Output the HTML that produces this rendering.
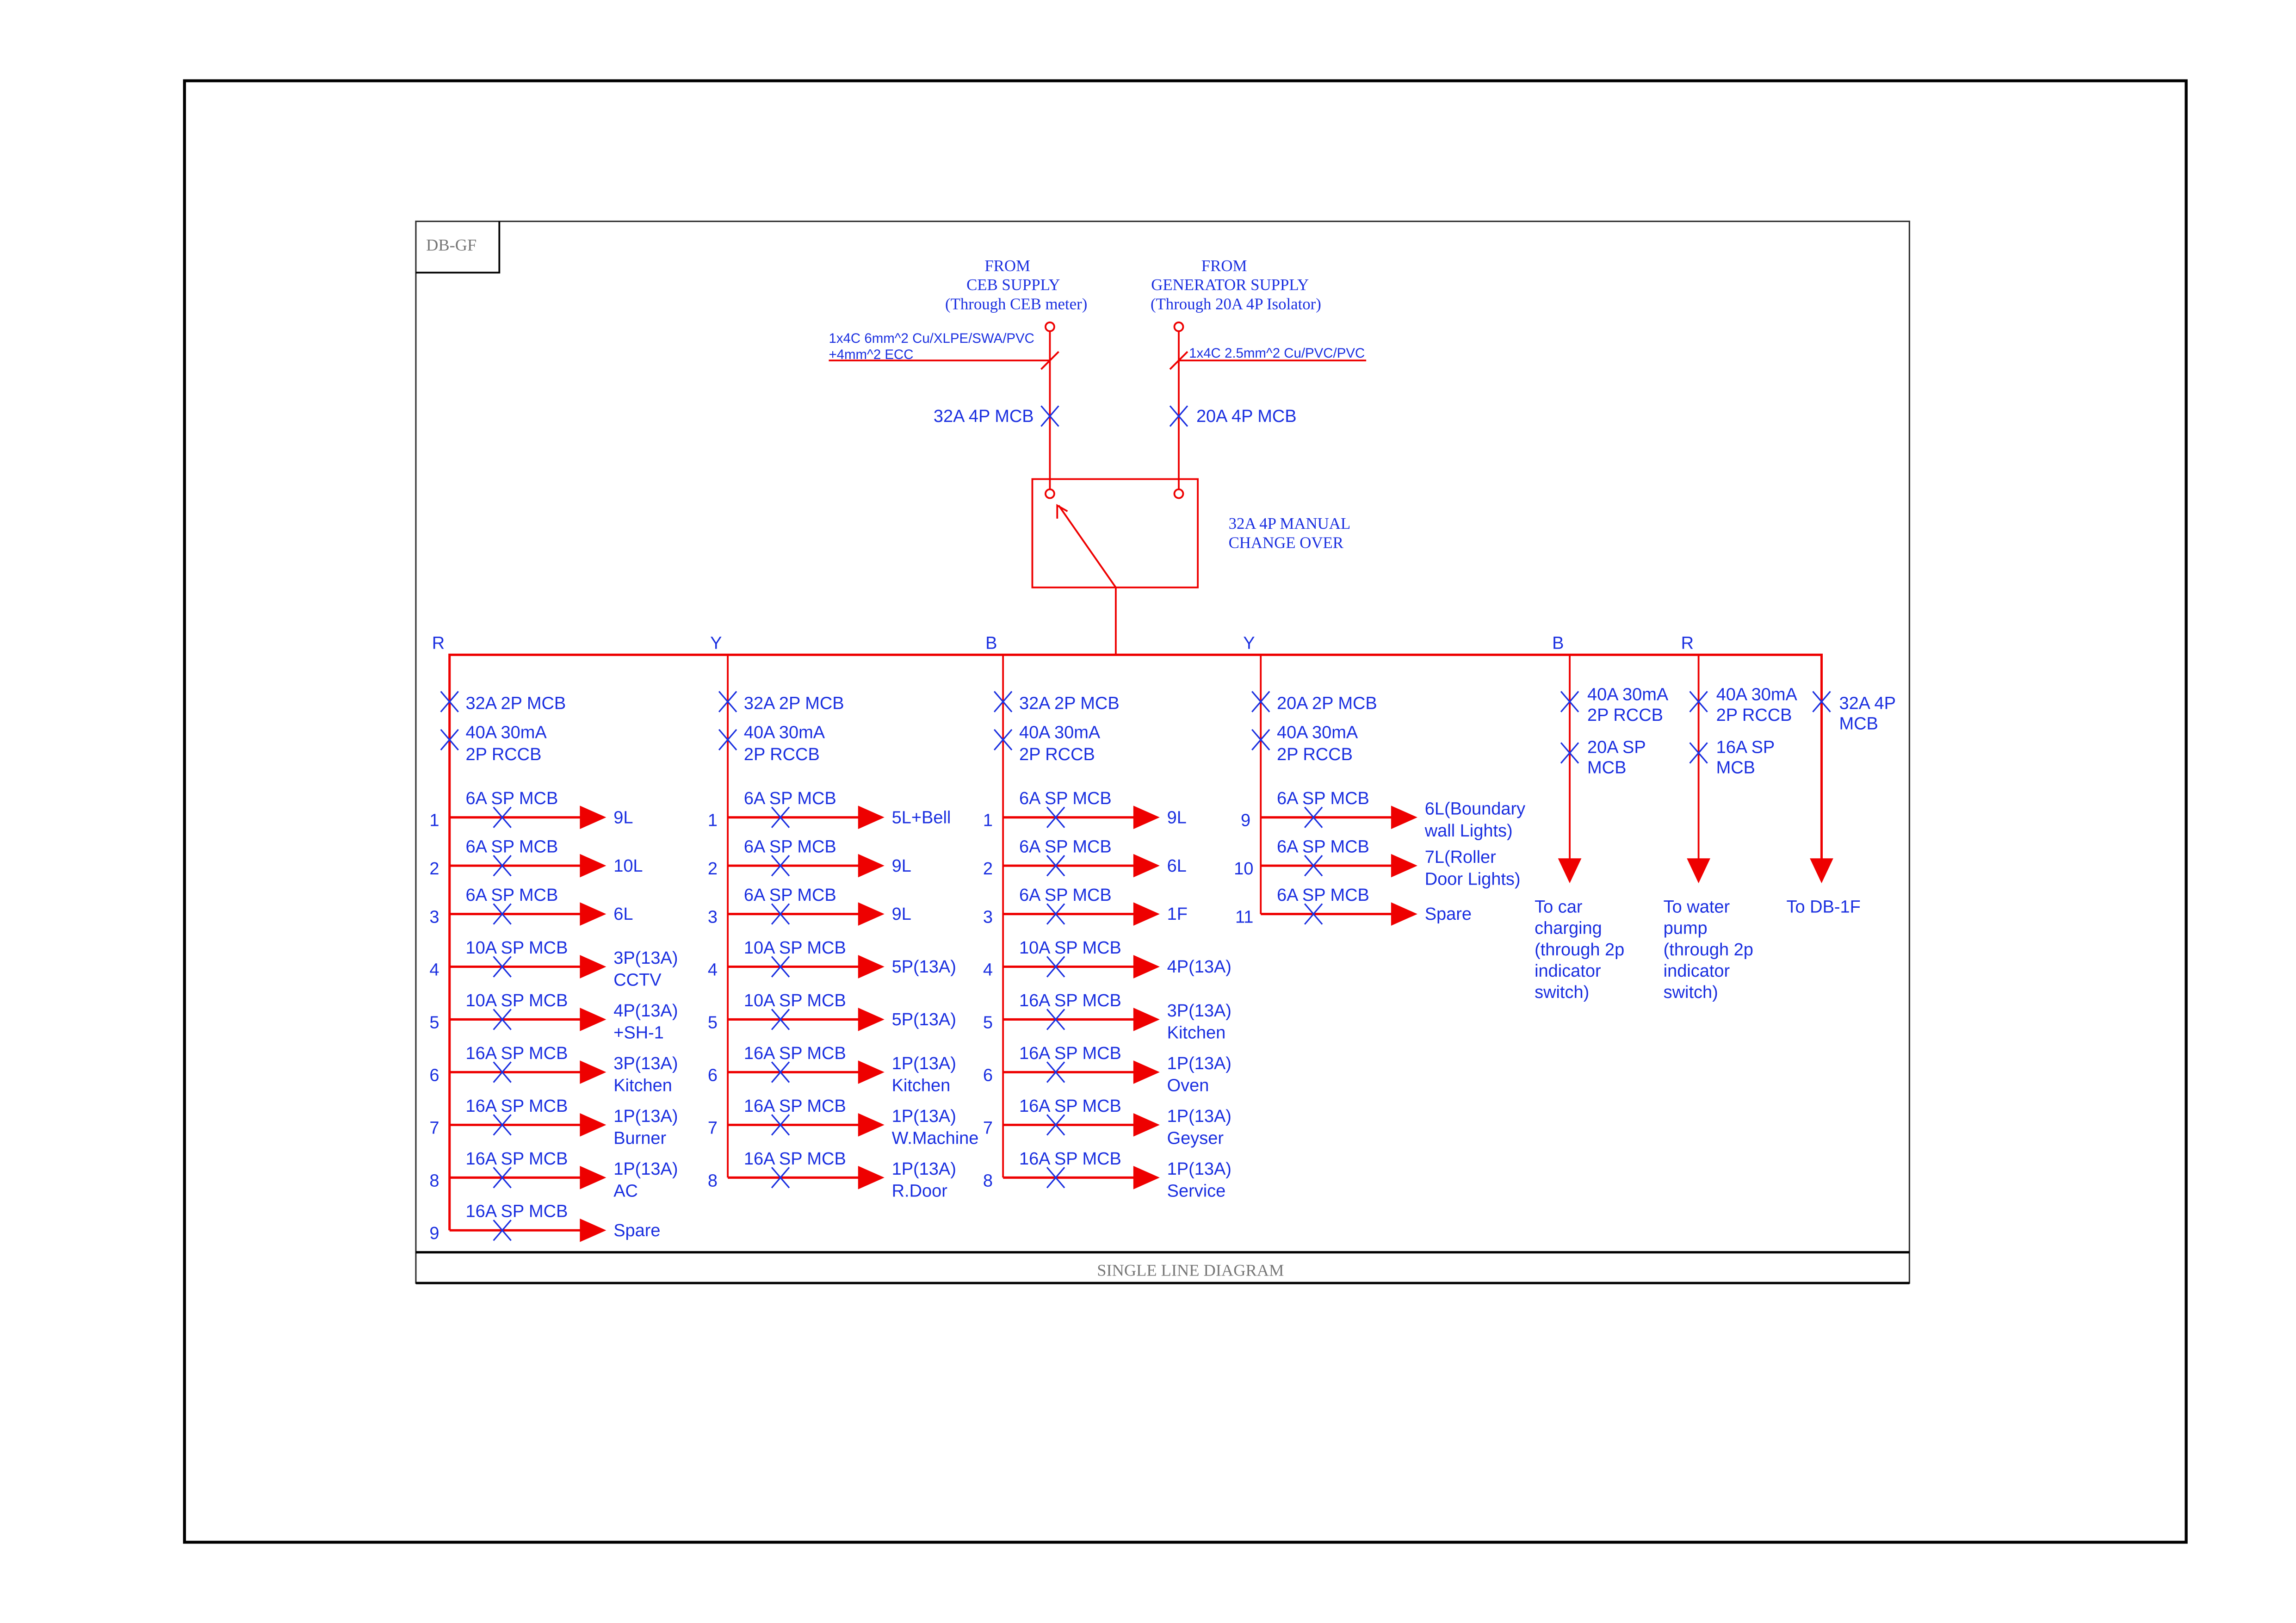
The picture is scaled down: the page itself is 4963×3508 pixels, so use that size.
<!DOCTYPE html>
<html><head><meta charset="utf-8"><style>html,body{margin:0;padding:0;background:#fff}svg{display:block}</style></head>
<body>
<svg width="4963" height="3508" viewBox="0 0 1568 1108" xmlns="http://www.w3.org/2000/svg">
<defs>
<g id="x"><line x1="-6" y1="-7" x2="6" y2="7" stroke="#1a2fe0" stroke-width="1"/><line x1="6" y1="-7" x2="-6" y2="7" stroke="#1a2fe0" stroke-width="1"/></g>
</defs>
<rect width="1568" height="1108" fill="#fff"/>
<rect x="126" y="55" width="1367" height="998" fill="none" stroke="#000" stroke-width="2"/>
<rect x="284" y="151" width="1020" height="725" fill="none" stroke="#333" stroke-width="1"/>
<line x1="284" y1="855" x2="1304" y2="855" stroke="#000" stroke-width="1.6"/>
<line x1="284" y1="876" x2="1304" y2="876" stroke="#000" stroke-width="1.6"/>
<polyline points="284,186 341,186 341,151" fill="none" stroke="#000" stroke-width="1.2"/>
<g font-family="Liberation Serif, serif" font-size="11.5" fill="#777">
<text x="291" y="171">DB-GF</text>
<text x="813" y="871" text-anchor="middle">SINGLE LINE DIAGRAM</text>
</g>
<g font-family="Liberation Serif, serif" font-size="11" fill="#1a2fe0" text-anchor="middle">
<text x="688" y="185">FROM</text><text x="692" y="198">CEB SUPPLY</text><text x="694" y="211">(Through CEB meter)</text>
<text x="836" y="185">FROM</text><text x="840" y="198">GENERATOR SUPPLY</text><text x="844" y="211">(Through 20A 4P Isolator)</text>
</g>
<g font-family="Liberation Serif, serif" font-size="11" fill="#1a2fe0">
<text x="839" y="361">32A 4P MANUAL</text><text x="839" y="374">CHANGE OVER</text>
</g>
<g stroke="#e00" fill="none" stroke-width="1.2">
<line x1="717" y1="226" x2="717" y2="334"/><line x1="805" y1="226" x2="805" y2="334"/>
<circle cx="717" cy="223" r="3"/><circle cx="805" cy="223" r="3"/>
<circle cx="717" cy="337" r="3"/><circle cx="805" cy="337" r="3"/>
<line x1="566" y1="246" x2="717" y2="246"/><line x1="805" y1="246" x2="933" y2="246"/>
<line x1="711" y1="252" x2="723" y2="240"/><line x1="799" y1="252" x2="811" y2="240"/>
<rect x="705" y="327" width="113" height="74"/>
<line x1="762" y1="401" x2="723" y2="345"/><polyline points="722,354 722,345 729,349"/>
<line x1="762" y1="401" x2="762" y2="447"/>
</g>
<g font-family="Liberation Sans, sans-serif" font-size="9.3" fill="#1a2fe0">
<text x="566" y="234">1x4C 6mm^2 Cu/XLPE/SWA/PVC</text><text x="566" y="245">+4mm^2 ECC</text>
<text x="812" y="244">1x4C 2.5mm^2 Cu/PVC/PVC</text>
</g>
<use href="#x" x="717" y="284"/><use href="#x" x="805" y="284"/>
<g font-family="Liberation Sans, sans-serif" font-size="12" fill="#1a2fe0">
<text x="706" y="288" text-anchor="end">32A 4P MCB</text><text x="817" y="288">20A 4P MCB</text>
<text x="295" y="443">R</text><text x="485" y="443">Y</text><text x="673" y="443">B</text><text x="849" y="443">Y</text><text x="1060" y="443">B</text><text x="1148" y="443">R</text>
</g>
<polyline points="307,840 307,447 1244,447 1244,590" fill="none" stroke="#e00" stroke-width="1.6"/>
<g stroke="#e00" stroke-width="1.2">
<line x1="497" y1="447" x2="497" y2="804"/><line x1="685" y1="447" x2="685" y2="804"/><line x1="861" y1="447" x2="861" y2="624"/>
<line x1="1072" y1="447" x2="1072" y2="590"/><line x1="1160" y1="447" x2="1160" y2="590"/>
</g>
<g fill="#e00">
<polygon points="1064,586 1080,586 1072,603"/><polygon points="1152,586 1168,586 1160,603"/><polygon points="1236,586 1252,586 1244,603"/>
</g>
<g id="br"></g>
<script>
(function(){
var NS="http://www.w3.org/2000/svg",g=document.getElementById("br");
function el(t,a,txt){var e=document.createElementNS(NS,t);for(var k in a)e.setAttribute(k,a[k]);if(txt)e.textContent=txt;g.appendChild(e);return e;}
function tx(x,y,s,anchor){el("text",{x:x,y:y,"font-family":"Liberation Sans, sans-serif","font-size":"12",fill:"#1a2fe0","text-anchor":anchor||"start"},s);}
function X(x,y){el("use",{href:"#x",x:x,y:y});}
var rows=[558,591,624,660,696,732,768,804,840];
var cols=[
{x:307,m:"32A 2P MCB",n:1,b:["6A","6A","6A","10A","10A","16A","16A","16A","16A"],l:[["9L"],["10L"],["6L"],["3P(13A)","CCTV"],["4P(13A)","+SH-1"],["3P(13A)","Kitchen"],["1P(13A)","Burner"],["1P(13A)","AC"],["Spare"]]},
{x:497,m:"32A 2P MCB",n:1,b:["6A","6A","6A","10A","10A","16A","16A","16A"],l:[["5L+Bell"],["9L"],["9L"],["5P(13A)"],["5P(13A)"],["1P(13A)","Kitchen"],["1P(13A)","W.Machine"],["1P(13A)","R.Door"]]},
{x:685,m:"32A 2P MCB",n:1,b:["6A","6A","6A","10A","16A","16A","16A","16A"],l:[["9L"],["6L"],["1F"],["4P(13A)"],["3P(13A)","Kitchen"],["1P(13A)","Oven"],["1P(13A)","Geyser"],["1P(13A)","Service"]]},
{x:861,m:"20A 2P MCB",n:9,b:["6A","6A","6A"],l:[["6L(Boundary","wall Lights)"],["7L(Roller","Door Lights)"],["Spare"]]}
];
cols.forEach(function(c){
 var x=c.x;X(x,479);X(x,505);
 tx(x+11,484,c.m);tx(x+11,504,"40A 30mA");tx(x+11,519,"2P RCCB");
 c.b.forEach(function(b,i){
  var y=rows[i];
  el("line",{x1:x,y1:y,x2:x+92,y2:y,stroke:"#e00","stroke-width":"1.6"});
  el("polygon",{points:(x+89)+","+(y-8)+" "+(x+107)+","+y+" "+(x+89)+","+(y+8),fill:"#e00"});
  X(x+36,y);
  tx(x+11,y-9,b+" SP MCB");
  tx(x-(c.n+i>9?5:7),y+6,String(c.n+i),"end");
  var L=c.l[i];
  if(L.length==1)tx(x+112,y+4,L[0]);else{tx(x+112,y-2,L[0]);tx(x+112,y+13,L[1]);}
 });
});
X(1072,479);X(1072,514);X(1160,479);X(1160,514);X(1244,479);
tx(1084,478,"40A 30mA");tx(1084,492,"2P RCCB");tx(1084,514,"20A SP");tx(1084,528,"MCB");
tx(1172,478,"40A 30mA");tx(1172,492,"2P RCCB");tx(1172,514,"16A SP");tx(1172,528,"MCB");
tx(1256,484,"32A 4P");tx(1256,498,"MCB");
["To car","charging","(through 2p","indicator","switch)"].forEach(function(s,i){tx(1048,623+i*14.6,s);});
["To water","pump","(through 2p","indicator","switch)"].forEach(function(s,i){tx(1136,623+i*14.6,s);});
tx(1220,623,"To DB-1F");
})();
</script>
</svg>
</body></html>
